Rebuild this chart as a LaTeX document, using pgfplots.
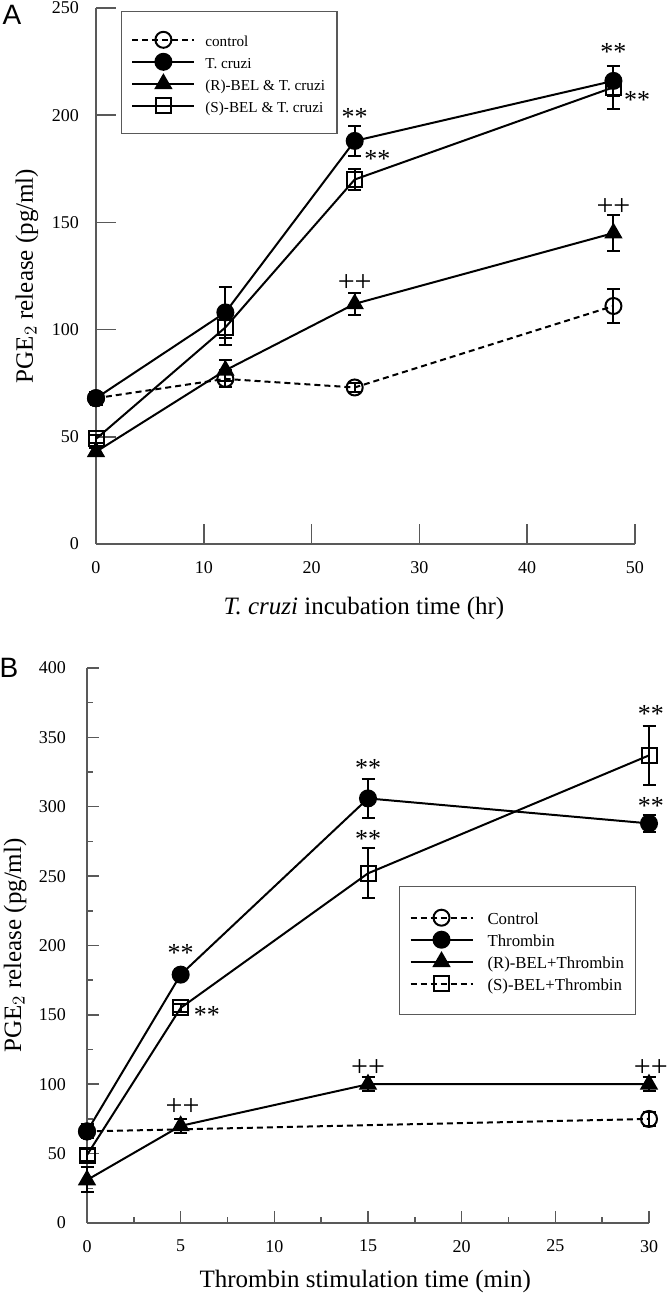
\documentclass[border=0pt]{standalone}
\usepackage{fontspec}
\setmainfont{Liberation Serif}
\newfontfamily\panelfont{Liberation Sans}
\usepackage{pgfplots}
\pgfplotsset{compat=1.18}

\definecolor{axisgray}{gray}{0.35}

\pgfplotsset{
  pge/.style={
    scale only axis,
    axis lines*=left,
    clip=false,
    tick align=inside,
    axis line style={axisgray, line width=0.75pt},
    every tick/.style={axisgray, line width=0.75pt},
    /pgf/number format/assume math mode=true,
    ticklabel style={font=\fontsize{9}{10}\selectfont},
    label style={font=\fontsize{12.5}{15}\selectfont},
    error bars/y dir=both,
    error bars/y explicit,
    error bars/error bar style={black, line width=1pt, solid},
    error bars/error mark options={black, line width=1pt, mark size=3.25pt, rotate=90, solid},
    legend cell align=left,
    legend image code/.code={
      \draw[mark repeat=2, mark phase=2, #1] plot coordinates {(0pt,0pt) (15.5pt,0pt) (31pt,0pt)};
    },
  },
  ctrl/.style={black, line width=1pt, dash pattern=on 3pt off 2pt, mark=o, mark size=4pt, mark options={solid, fill=white}},
  filled/.style={black, line width=1pt, solid, mark=*, mark size=4pt, mark options={solid, fill=black}},
  tri/.style={black, line width=1pt, solid, mark=triangle*, mark size=4.3pt, mark options={solid, fill=black}},
  sq/.style={black, line width=1pt, solid, mark=square, mark size=3.75pt, mark options={solid, fill=white}},
  sqdash/.style={black, line width=1pt, dash pattern=on 3pt off 2pt, mark=square, mark size=3.75pt, mark options={solid, fill=white}},
}
\tikzset{
  star/.style={font=\fontsize{13}{13}\selectfont, inner sep=0pt},
  plus/.style={font=\fontsize{15}{15}\selectfont, inner sep=0pt},
}

\begin{document}
\begin{tikzpicture}
\path[use as bounding box] (0,0) rectangle (333pt,647.5pt);

% panel A
\begin{axis}[pge,
  at={(48pt,375.5pt)}, anchor=south west,
  width=269.5pt, height=268pt,
  xmin=0, xmax=50, ymin=0, ymax=250,
  xtick={0,10,...,50}, ytick={0,50,...,250},
  major tick length=10pt,
  yticklabel style={xshift=-5pt},
  xticklabel style={yshift=-5pt},
  xlabel={\textit{T. cruzi} incubation time (hr)},
  ylabel={PGE$_2$ release (pg/ml)},
  x label style={at={(axis description cs:0.497,-0.121)}, anchor=center},
  y label style={at={(axis description cs:-0.128,0.5)}, anchor=center},
  legend style={at={(0.046,0.994)}, anchor=north west, draw=axisgray, line width=0.6pt,
    font=\fontsize{7.6}{9}\selectfont, inner xsep=5pt, inner ysep=8.5pt, row sep=0pt,
    nodes={inner sep=1pt, text height=8pt, text depth=1pt},
    /tikz/every odd column/.append style={column sep=4pt}},
]
\addlegendimage{ctrl}\addlegendentry{control}
\addlegendimage{filled}\addlegendentry{T. cruzi}
\addlegendimage{tri}\addlegendentry{(R)-BEL \& T. cruzi}
\addlegendimage{sq}\addlegendentry{(S)-BEL \& T. cruzi}

\addplot[ctrl, forget plot] coordinates {(0,68) +- (0,3) (12,77) +- (0,4) (24,73) +- (0,2) (48,111) +- (0,8)};
\addplot[filled, forget plot] coordinates {(0,68) +- (0,3) (12,108) +- (0,12) (24,188) +- (0,7) (48,216) +- (0,7)};
\addplot[tri, forget plot] coordinates {(0,43) +- (0,2) (12,81) +- (0,5) (24,112) +- (0,5) (48,145) +- (0,8.5)};
\addplot[sq, forget plot] coordinates {(0,49) +- (0,2) (12,101) +- (0,8) (24,170) +- (0,5) (48,213) +- (0,10)};

\node[star] at (axis cs:24,199) {**};
\node[star] at (axis cs:26.1,179.6) {**};
\node[star] at (axis cs:48,229.5) {**};
\node[star] at (axis cs:50.2,207) {**};
\node[plus] at (axis cs:24,121.7) {++};
\node[plus] at (axis cs:48,157.2) {++};
\end{axis}

% panel B
\begin{axis}[pge,
  at={(43.5pt,36pt)}, anchor=south west,
  width=281pt, height=277.5pt,
  xmin=0, xmax=30, ymin=0, ymax=400,
  xtick={0,5,...,30}, ytick={0,50,...,400},
  minor x tick num=1, minor y tick num=1,
  major tick length=6pt, minor tick length=3pt,
  yticklabel style={xshift=-7pt},
  xticklabel style={yshift=-5pt},
  xlabel={Thrombin stimulation time (min)},
  ylabel={PGE$_2$ release (pg/ml)},
  x label style={at={(axis description cs:0.495,-0.106)}, anchor=center},
  y label style={at={(axis description cs:-0.128,0.5)}, anchor=center},
  legend style={at={(0.555,0.607)}, anchor=north west, draw=axisgray, line width=0.6pt,
    font=\fontsize{8.4}{9}\selectfont, inner xsep=5pt, inner ysep=10pt, row sep=0pt,
    nodes={inner sep=1pt, text height=8pt, text depth=1pt},
    /tikz/every odd column/.append style={column sep=6pt}},
]
\addlegendimage{ctrl}\addlegendentry{Control}
\addlegendimage{filled}\addlegendentry{Thrombin}
\addlegendimage{tri}\addlegendentry{(R)-BEL+Thrombin}
\addlegendimage{sqdash}\addlegendentry{(S)-BEL+Thrombin}

\addplot[filled, forget plot] coordinates {(0,66) +- (0,5) (5,179) +- (0,4) (15,306) +- (0,14) (30,288) +- (0,6)};
\addplot[tri, forget plot] coordinates {(0,31) +- (0,9) (5,70) +- (0,5) (15,100) +- (0,5) (30,100) +- (0,5)};
\addplot[sq, forget plot] coordinates {(0,49) +- (0,4) (5,155) +- (0,3) (15,252) +- (0,18) (30,337) +- (0,21)};
\addplot[ctrl, forget plot] coordinates {(0,66) +- (0,4) (30,75) +- (0,5)};

\node[star] at (axis cs:5,194.6) {**};
\node[star] at (axis cs:6.4,150) {**};
\node[star] at (axis cs:15,328) {**};
\node[star] at (axis cs:15,276.8) {**};
\node[star] at (axis cs:30.1,366.8) {**};
\node[star] at (axis cs:30.1,300.5) {**};
\node[plus] at (axis cs:5.1,83.6) {++};
\node[plus] at (axis cs:15,111.7) {++};
\node[plus] at (axis cs:30.1,111.7) {++};
\end{axis}

\node[font=\panelfont\fontsize{14}{14}\selectfont] at (6pt,640pt) {A};
\node[font=\panelfont\fontsize{14}{14}\selectfont] at (4.5pt,313.5pt) {B};
\end{tikzpicture}
\end{document}
